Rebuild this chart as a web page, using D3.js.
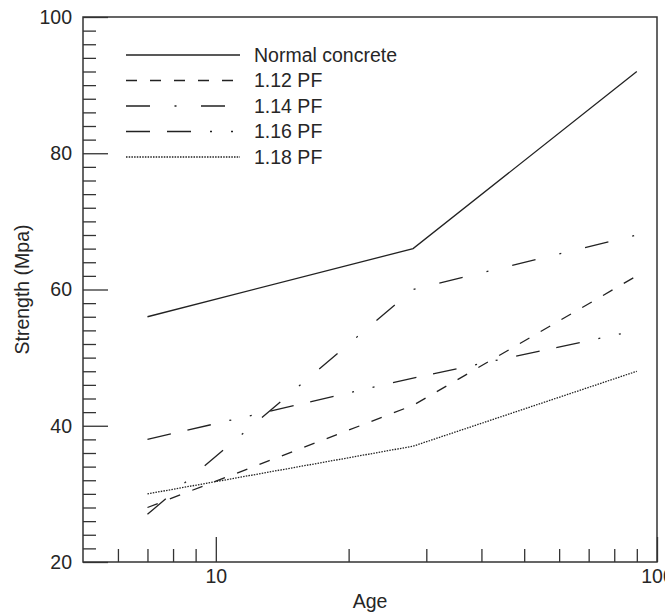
<!DOCTYPE html>
<html>
<head>
<meta charset="utf-8">
<script src="https://cdn.jsdelivr.net/npm/d3@7"></script>
<style>
  body { margin: 0; background: #fff; }
  svg { display: block; }
  text { font-family: "Liberation Sans", Arial, sans-serif; fill: #262626; }
  .axis text { font-size: 19.5px; }
  .axis line { stroke: #333; stroke-width: 1.3; }
  .axisLabel { font-size: 19.5px; }
  .legend text { font-size: 19.5px; }
</style>
</head>
<body>
<svg width="665" height="616"></svg>
<script>
// chart values
var ages = [7, 28, 90];
var normalConcrete = [56, 66, 92];
var pf112 = [28, 43, 62];
var pf114 = [27, 60, 68];
var pf116 = [38, 47, 54];
var pf118 = [30, 37, 48];
var seriesNames = ['Normal concrete', '1.12 PF', '1.14 PF', '1.16 PF', '1.18 PF'];
var yTickValues = [20, 40, 60, 80, 100];
var xTickValues = [10, 100];

// line styles, one per series
var dashes = ['none', '11,13', '24,24.5,2,24.5', '24,17,24,19,2,19,2,19', '1.5,1.2'];

var svg = d3.select('svg');

// plot edges (note: "top" is taken by window.top)
var plotLeft = 83, plotRight = 657, plotTop = 17, plotBottom = 562;

// log scale for age, linear for strength
var xScale = d3.scaleLog()
   .domain([5, 100])
   .range([plotLeft, plotRight]);

var yScale = d3.scaleLinear()
   .domain([20, 100])
   .range([plotBottom, plotTop]);

var series = [normalConcrete, pf112, pf114, pf116, pf118].map(function(vals, i) {
   return {
      name: seriesNames[i],
      dash: dashes[i],
      points: ages.map(function(a, j) { return {age: a, strength: vals[j]}; })
   };
});

// minor x ticks (no labels)
var xMinor = [6, 7, 8, 9, 20, 30, 40, 50, 60, 70, 80, 90];
svg.append('g')
   .attr('class', 'x axis')
   .attr('transform', 'translate(0,' + plotBottom + ')')
   .call(d3.axisBottom(xScale).tickValues(xMinor).tickSize(-13).tickFormat(''))
   .call(function(g) { g.select('.domain').remove(); });

// major x ticks
svg.append('g')
   .attr('class', 'x axis')
   .attr('transform', 'translate(0,' + plotBottom + ')')
   .call(d3.axisBottom(xScale).tickValues(xTickValues).tickSize(-25).tickPadding(7)
      .tickFormat(function(d) { return d; }))
   .call(function(g) { g.select('.domain').remove(); });

// minor y ticks
var yMinor = d3.range(22, 100, 2).filter(function(d) { return d % 20 != 0; });
svg.append('g')
   .attr('class', 'y axis')
   .attr('transform', 'translate(' + plotLeft + ',0)')
   .call(d3.axisLeft(yScale).tickValues(yMinor).tickSize(-13).tickFormat(''))
   .call(function(g) { g.select('.domain').remove(); });

// major y ticks
svg.append('g')
   .attr('class', 'y axis')
   .attr('transform', 'translate(' + plotLeft + ',0)')
   .call(d3.axisLeft(yScale).tickValues(yTickValues).tickSize(-25).tickPadding(11))
   .call(function(g) { g.select('.domain').remove(); });

// frame around the plot
svg.append('rect')
   .attr('x', plotLeft)
   .attr('y', plotTop)
   .attr('width', plotRight - plotLeft)
   .attr('height', plotBottom - plotTop)
   .style('fill', 'none')
   .style('stroke', '#333')
   .style('stroke-width', 1.5);

var line = d3.line()
   .x(function(d) { return xScale(d.age); })
   .y(function(d) { return yScale(d.strength); });

svg.selectAll('.series')
   .data(series)
   .enter()
   .append('path')
   .attr('class', 'series')
   .attr('d', function(d) { return line(d.points); })
   .style('fill', 'none')
   .style('stroke', '#222')
   .style('stroke-width', 1.3)
   .style('stroke-dasharray', function(d) { return d.dash; });

// legend
var legend = svg.append('g').attr('class', 'legend');
var rows = legend.selectAll('.row')
   .data(series)
   .enter()
   .append('g')
   .attr('class', 'row')
   .attr('transform', function(d, i) { return 'translate(126,' + (55 + i * 25.5) + ')'; });

rows.append('line')
   .attr('x1', 0)
   .attr('x2', 114)
   .style('stroke', '#222')
   .style('stroke-width', 1.3)
   .style('stroke-dasharray', function(d) { return d.dash; });

rows.append('text')
   .attr('x', 128)
   .attr('dy', '0.35em')
   .text(function(d) { return d.name; });

// axis labels
svg.append('text')
   .attr('class', 'axisLabel')
   .attr('transform', 'translate(' + ((plotLeft + plotRight) / 2) + ',608)')
   .attr('text-anchor', 'middle')
   .text('Age');

svg.append('text')
   .attr('class', 'axisLabel')
   .attr('transform', 'translate(22,' + ((plotTop + plotBottom) / 2) + ')rotate(270)')
   .attr('text-anchor', 'middle')
   .attr('dy', '0.35em')
   .text('Strength (Mpa)');
</script>
</body>
</html>
